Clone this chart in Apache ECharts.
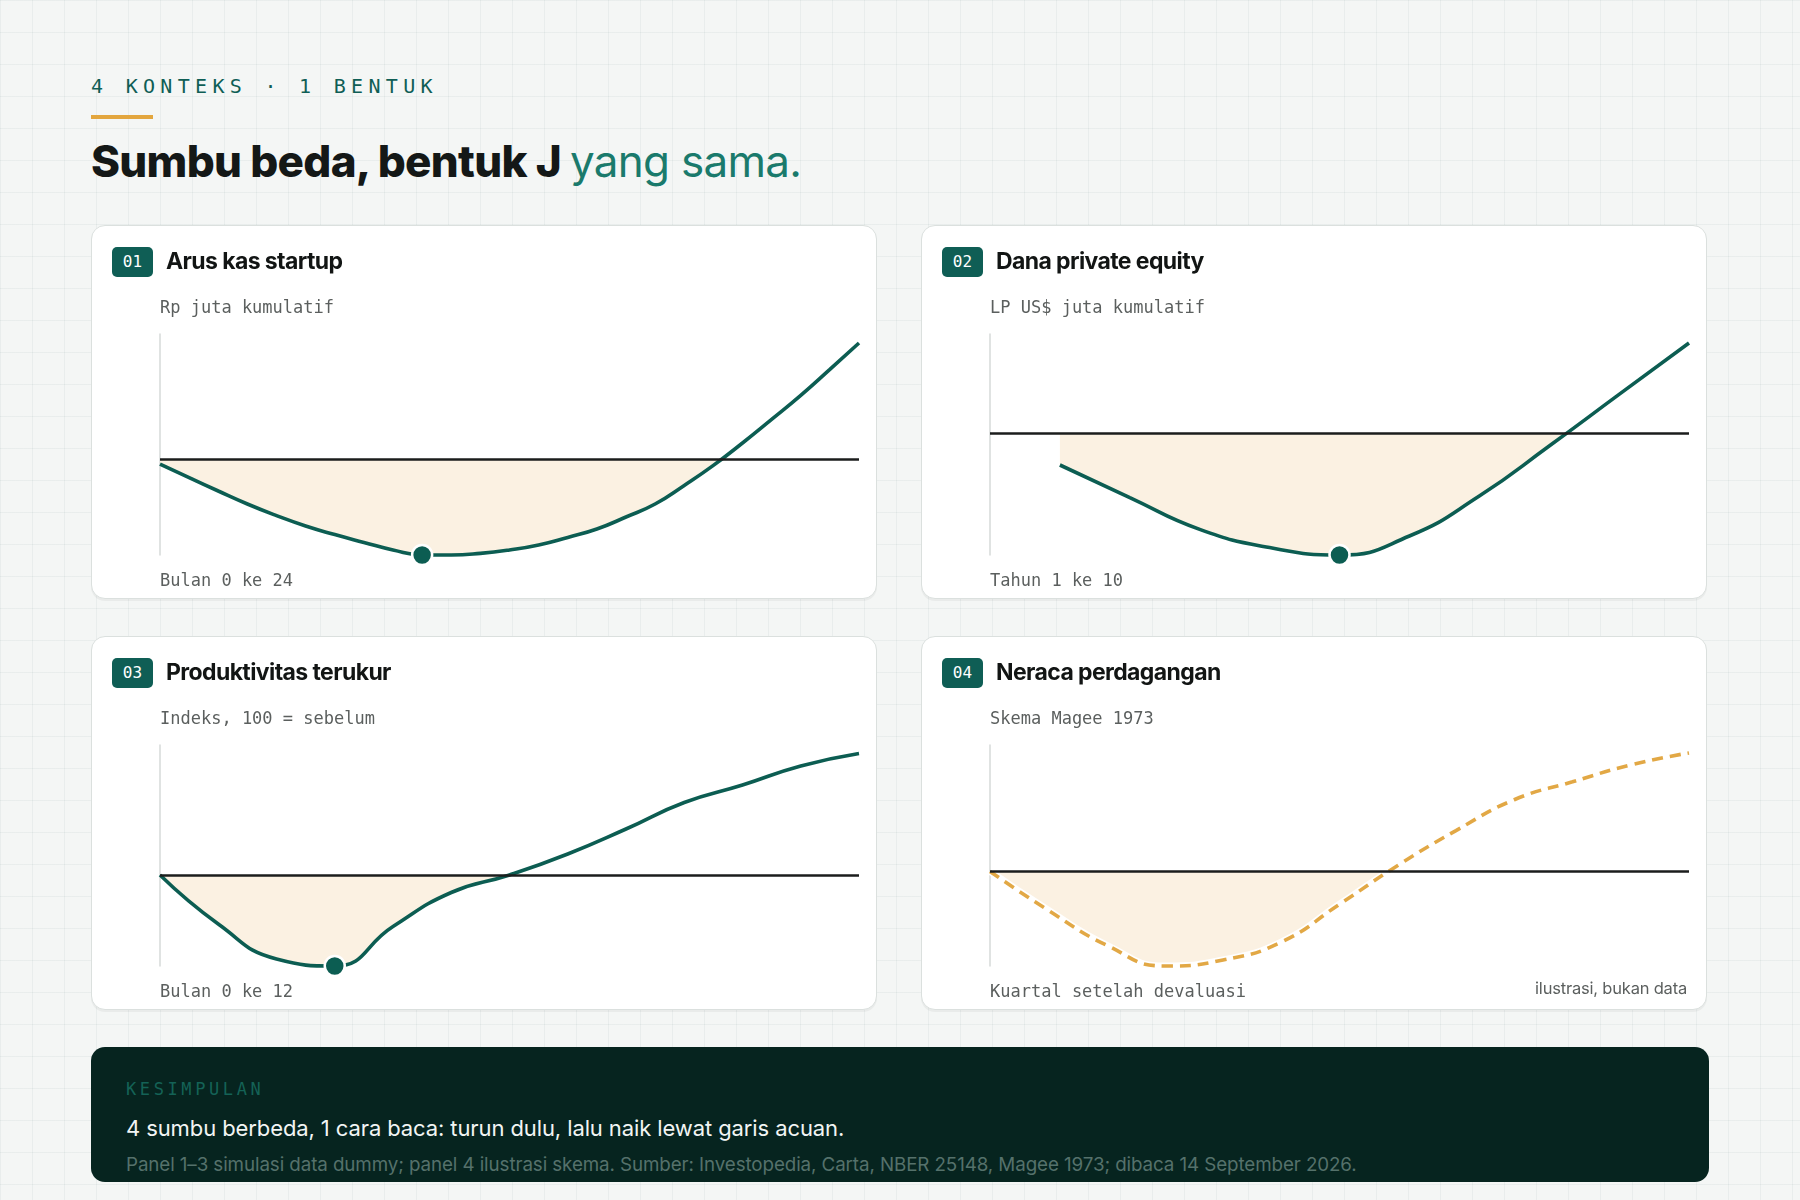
<!DOCTYPE html>
<html>
<head>
<meta charset="utf-8">
<script src="https://cdn.jsdelivr.net/npm/echarts@6/dist/echarts.min.js"></script>
<style>
    body {
        margin: 0;
        width: 1800px;
        height: 1200px;
        position: relative;
        overflow: hidden;
        background-color: #f4f6f5;
        background-image:
            linear-gradient(to right, rgba(20, 80, 70, 0.05) 1px, transparent 1px),
            linear-gradient(to bottom, rgba(20, 80, 70, 0.05) 1px, transparent 1px);
        background-size: 32px 32px;
        font-family: Inter, 'Noto Sans', sans-serif;
    }
    .abs { position: absolute; white-space: nowrap; }
    .mono { font-family: 'DejaVu Sans Mono', 'Liberation Mono', monospace; }
    .eyebrow { left: 91px; top: 76px; font-size: 20px; line-height: 20px; letter-spacing: 5.3px; color: #0f5e55; }
    .bar { left: 91px; top: 115px; width: 62px; height: 4px; background: #e3a63e; }
    .title { left: 91px; top: 139px; font-size: 44px; line-height: 44px; letter-spacing: -0.7px; color: #141817; font-weight: 800; }
    .title span { color: #1a7a6c; font-weight: 400; }
    .card {
        position: absolute;
        width: 784px;
        height: 372px;
        background: #fff;
        border: 1.5px solid #dbe0de;
        border-radius: 14px;
        box-shadow: 0 2px 0 rgba(0, 0, 0, 0.045);
    }
    .card .chart { position: absolute; left: 0; top: 0; width: 787px; height: 375px; }
    .badge {
        left: 20px; top: 21px; width: 41px; height: 30px; border-radius: 5px;
        background: #0f5e55; color: #fff; font-size: 16px; line-height: 30px; text-align: center;
    }
    .ctitle { left: 74px; top: 24px; font-size: 23px; line-height: 23px; font-weight: 700; letter-spacing: -0.6px; color: #121514; }
    .cap { left: 68px; top: 73px; font-size: 17px; line-height: 17px; color: #5b5f5e; }
    .xl { left: 68px; top: 346px; font-size: 17px; line-height: 17px; color: #5b5f5e; }
    .note { right: 19px; top: 343px; font-size: 16.5px; line-height: 16px; color: #5b5f5e; letter-spacing: -0.2px; }
    .box {
        position: absolute; left: 91px; top: 1047px; width: 1618px; height: 135px;
        background: #06241f; border-radius: 14px; overflow: hidden;
    }
    .k { left: 35px; top: 34px; font-size: 17px; line-height: 17px; letter-spacing: 3.6px; color: #146256; }
    .msg { left: 35px; top: 70px; font-size: 22px; line-height: 22px; color: #f2f5f4; letter-spacing: -0.1px; }
    .foot { left: 35px; top: 108px; font-size: 18.8px; line-height: 19px; color: #55716b; letter-spacing: -0.1px; }
</style>
</head>
<body>
<div class="abs mono eyebrow">4 KONTEKS · 1 BENTUK</div>
<div class="abs bar"></div>
<div class="abs title">Sumbu beda, bentuk J <span>yang sama.</span></div>

<div class="card" style="left:91px;top:225px">
    <div class="chart" id="c1"></div>
    <div class="abs mono badge">01</div>
    <div class="abs ctitle">Arus kas startup</div>
    <div class="abs mono cap">Rp juta kumulatif</div>
    <div class="abs mono xl">Bulan 0 ke 24</div>
</div>
<div class="card" style="left:921px;top:225px">
    <div class="chart" id="c2"></div>
    <div class="abs mono badge">02</div>
    <div class="abs ctitle">Dana private equity</div>
    <div class="abs mono cap">LP US$ juta kumulatif</div>
    <div class="abs mono xl">Tahun 1 ke 10</div>
</div>
<div class="card" style="left:91px;top:636px">
    <div class="chart" id="c3"></div>
    <div class="abs mono badge">03</div>
    <div class="abs ctitle">Produktivitas terukur</div>
    <div class="abs mono cap">Indeks, 100 = sebelum</div>
    <div class="abs mono xl">Bulan 0 ke 12</div>
</div>
<div class="card" style="left:921px;top:636px">
    <div class="chart" id="c4"></div>
    <div class="abs mono badge">04</div>
    <div class="abs ctitle">Neraca perdagangan</div>
    <div class="abs mono cap">Skema Magee 1973</div>
    <div class="abs mono xl">Kuartal setelah devaluasi</div>
    <div class="abs note">ilustrasi, bukan data</div>
</div>

<div class="box">
    <div class="abs mono k">KESIMPULAN</div>
    <div class="abs msg">4 sumbu berbeda, 1 cara baca: turun dulu, lalu naik lewat garis acuan.</div>
    <div class="abs foot">Panel 1–3 simulasi data dummy; panel 4 ilustrasi skema. Sumber: Investopedia, Carta, NBER 25148, Magee 1973; dibaca 14 September 2026.</div>
</div>

<script>
const log = console.log.bind(console)
const e = sel => document.querySelector(sel)

// panel 1: arus kas startup, Rp juta kumulatif, bulan 0..24
const startupMonths = [0, 1, 2, 3, 4, 5, 6, 7, 8, 9, 10, 11, 12, 13, 14, 15, 16, 17, 18, 19, 20, 21, 22, 23, 24]
const startupCash = [-26, -93, -160, -225, -283, -335, -378, -417, -455, -480, -480, -472, -455, -430, -392, -350, -290, -225, -132, -32, 80, 198, 318, 448, 580]

// panel 2: dana PE, LP US$ juta kumulatif, tahun 1..10
const peYears = [1, 2, 3, 4, 5, 6, 7, 8, 9, 10]
const peNet = [-16, -32.3, -48.2, -57.3, -61, -51.5, -31.5, -6.5, 19.3, 45]

// panel 3: produktivitas, indeks 100 = sebelum, bulan 0..12
const prodMonths = [0, 1, 2, 3, 4, 5, 6, 7, 8, 9, 10, 11, 12]
const prodIndex = [100, 90.2, 83.2, 81.8, 89.7, 96.5, 100, 104.2, 109.2, 114.5, 118, 121.8, 124.3]

// panel 4: neraca perdagangan (skema), kuartal 0..12
const tradeQuarters = [0, 1, 2, 3, 4, 5, 6, 7, 8, 9, 10, 11, 12]
const tradeBalance = [0, -3.9, -7.4, -9.5, -8.9, -7.1, -3.3, 0.6, 4.1, 7.2, 9.0, 10.7, 11.9]

const teal = '#0c5d52'
const amber = '#e2a845'
const fill = '#fbf1e2'

const G = { left: 68, top: 108, width: 699, height: 221 }

const makeChart = (id, cfg) => {
    let chart = echarts.init(e(id))
    let pts = cfg.x.map((x, i) => [x, cfg.y[i]])
    // lower grid clipped at the baseline, so the fill only shows under it
    let zeroTop = G.top + G.height * (cfg.max - cfg.base) / (cfg.max - cfg.min)
    let xAxis = {
        type: 'value',
        min: cfg.xmin,
        max: cfg.xmax,
        show: false,
    }
    let series = [
        {
            type: 'line',
            xAxisIndex: 1,
            yAxisIndex: 1,
            data: pts,
            smooth: true,
            symbol: 'none',
            silent: true,
            lineStyle: { width: 0, opacity: 0 },
            areaStyle: { color: fill, opacity: 1, origin: 'end' },
            z: 1,
        },
        {
            type: 'line',
            data: pts,
            symbol: 'none',
            silent: true,
            lineStyle: { opacity: 0 },
            markLine: {
                symbol: 'none',
                silent: true,
                label: { show: false },
                lineStyle: { color: '#1b1d1c', width: 2.6, type: 'solid' },
                data: [{ yAxis: cfg.base }],
            },
            z: 2,
        },
    ]
    if (cfg.dashed) {
        series.push({
            type: 'line',
            data: pts,
            smooth: true,
            symbol: 'none',
            silent: true,
            clip: false,
            lineStyle: { color: '#fff', width: 7 },
            z: 3,
        })
    }
    series.push({
        type: 'line',
        data: pts,
        smooth: true,
        symbol: 'none',
        silent: true,
        clip: false,
        lineStyle: {
            color: cfg.color,
            width: 3.6,
            type: cfg.dashed ? [11, 7] : 'solid',
            cap: 'butt',
        },
        z: 4,
    })
    if (cfg.dot) {
        let i = cfg.y.indexOf(Math.min(...cfg.y))
        series.push({
            type: 'scatter',
            data: [pts[i]],
            symbolSize: 20,
            clip: false,
            silent: true,
            itemStyle: { color: teal, opacity: 1, borderColor: '#fff', borderWidth: 2.5 },
            z: 5,
        })
    }
    let option = {
        animation: false,
        grid: [
            { left: G.left, top: G.top, width: G.width, height: G.height },
            { left: G.left, top: zeroTop, width: G.width, height: G.top + G.height - zeroTop },
        ],
        xAxis: [xAxis, Object.assign({ gridIndex: 1 }, xAxis)],
        yAxis: [
            {
                type: 'value',
                min: cfg.min,
                max: cfg.max,
                axisLine: { show: true, onZero: false, lineStyle: { color: '#d6dad9', width: 1.5 } },
                axisTick: { show: false },
                axisLabel: { show: false },
                splitLine: { show: false },
            },
            {
                type: 'value',
                gridIndex: 1,
                min: cfg.min,
                max: cfg.base,
                show: false,
                splitLine: { show: false },
            },
        ],
        series: series,
    }
    chart.setOption(option)
}

const __main = () => {
    makeChart('#c1', { x: startupMonths, y: startupCash, xmin: 0, xmax: 24, min: -480, max: 625, base: 0, color: teal, dot: true })
    makeChart('#c2', { x: peYears, y: peNet, xmin: 0, xmax: 10, min: -61, max: 49.5, base: 0, color: teal, dot: true })
    makeChart('#c3', { x: prodMonths, y: prodIndex, xmin: 0, xmax: 12, min: 81.8, max: 126, base: 100, color: teal, dot: true })
    makeChart('#c4', { x: tradeQuarters, y: tradeBalance, xmin: 0, xmax: 12, min: -9.5, max: 12.7, base: 0, color: amber, dashed: true })
}

__main()
</script>
</body>
</html>
